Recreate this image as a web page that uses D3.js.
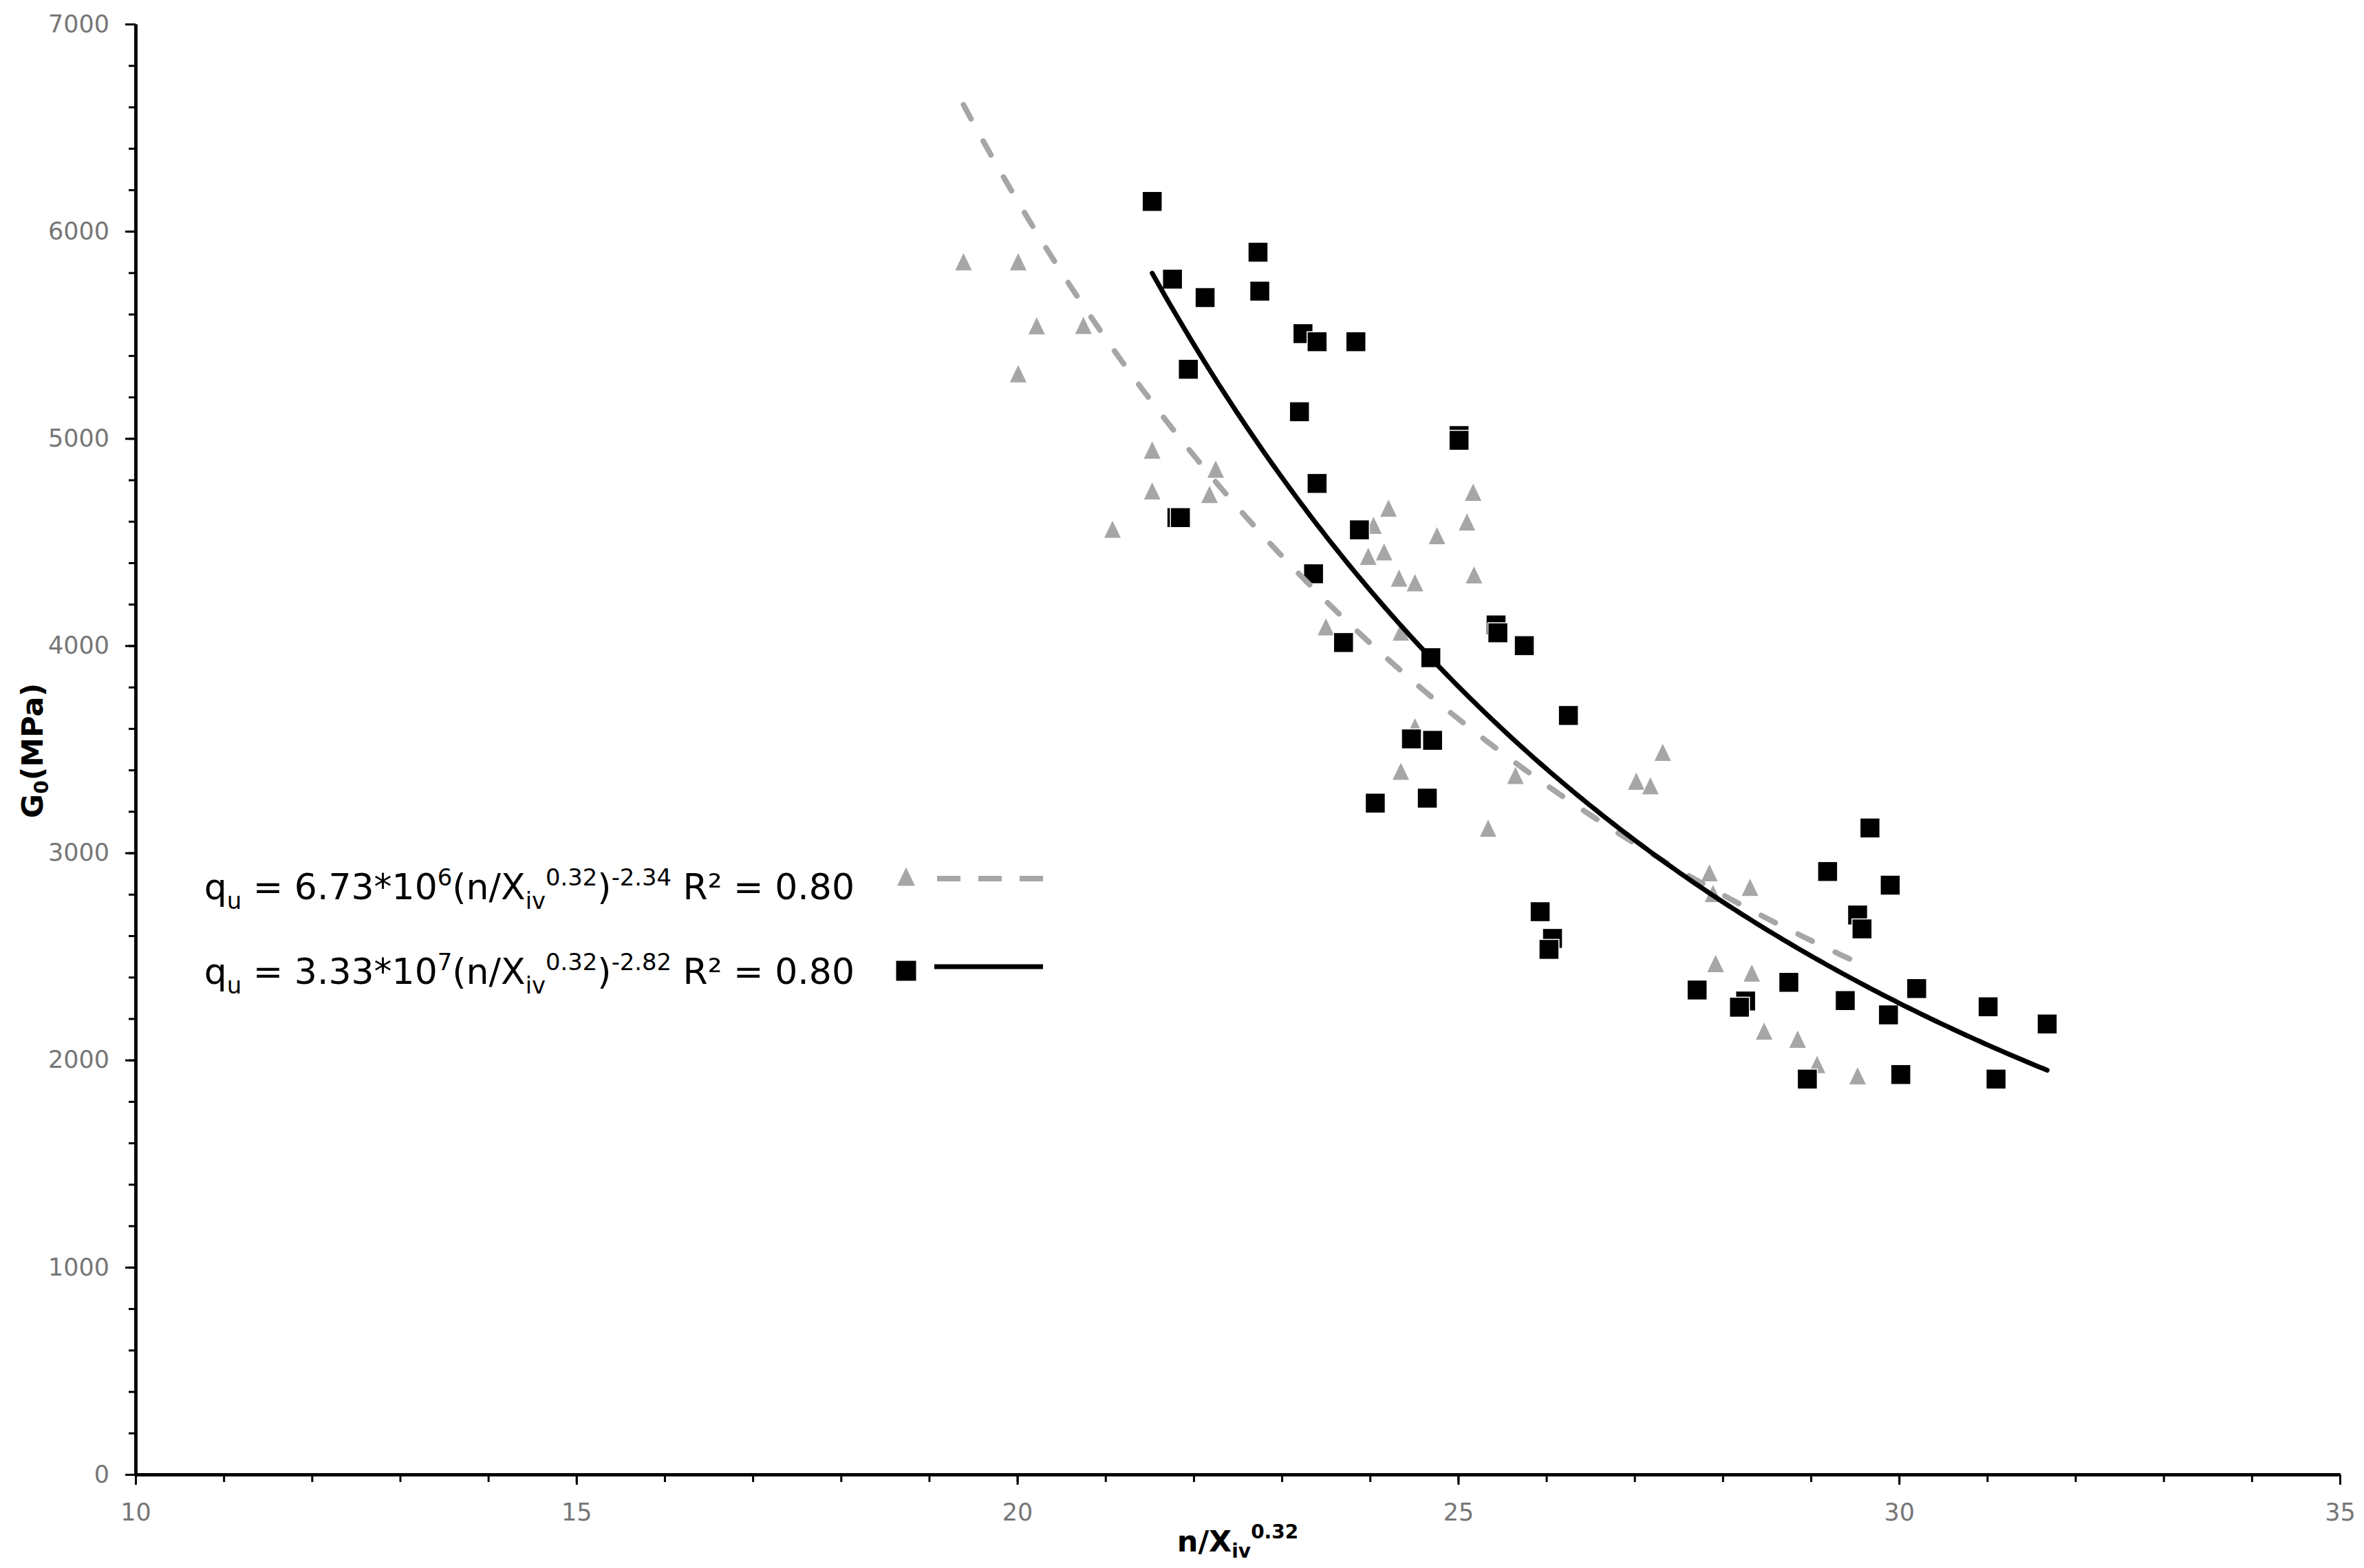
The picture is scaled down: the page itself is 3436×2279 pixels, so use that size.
<!DOCTYPE html>
<html lang="en">
<head>
<meta charset="UTF-8">
<title>G0 - n/Xiv^0.32</title>
<script src="https://cdn.jsdelivr.net/npm/d3@7"></script>
<style>
    body{margin:0;background:#fff;}
    text{font-family:"DejaVu Sans",Verdana,sans-serif;}
</style>
</head>
<body>
<script>
    // grey triangles
    var triX=[19.39,20.01,20.22,20.75,20.01,21.53,21.53,22.25,22.18,21.08,
              24.21,25.17,25.10,24.76,24.04,23.98,24.16,24.33,24.51,25.18,
              23.50,24.35,24.51,24.35,25.65,25.34,27.32,27.02,27.18,27.85,
              27.89,28.31,27.92,28.33,28.47,28.85,29.07,29.53];
    var triY=[5854,5854,5545,5547,5314,4945,4748,4853,4731,4563,
              4665,4742,4598,4532,4582,4432,4454,4327,4305,4343,
              4092,4067,3610,3395,3375,3120,3486,3347,3325,2905,
              2805,2835,2467,2421,2141,2102,1980,1925];

    // black squares
    var sqX=[21.53,22.73,21.76,22.13,22.75,21.94,23.24,23.40,23.84,23.20,
             25.01,25.01,23.40,23.88,21.81,21.85,23.36,23.70,24.69,25.43,
             25.45,25.75,26.25,24.47,24.71,24.06,24.65,25.93,26.07,26.03,
             27.71,28.75,28.26,28.19,29.67,29.19,29.90,29.53,29.58,29.39,
             30.20,29.88,31.01,31.68,28.96,30.02,31.10];
    var sqY=[6144,5899,5769,5680,5711,5334,5506,5467,5467,5129,
             5014,4991,4783,4559,4618,4618,4347,4015,3942,4100,
             4062,4000,3663,3550,3543,3240,3264,2716,2587,2534,
             2338,2375,2285,2255,3120,2910,2844,2700,2633,2287,
             2345,2218,2257,2174,1908,1930,1908];

    var xTicks=[10,15,20,25,30,35];
    var yTicks=[0,1000,2000,3000,4000,5000,6000,7000];

    // power trendlines y = a*x^b
    var greyFit=[6.81e6,-2.34];
    var blackFit=[3.33e7,-2.82];

    var width=3436, height=2279;
    var plot={left:197,right:3401,top:35,bottom:2143};

    var svg=d3.select("body").append("svg").attr("width",width).attr("height",height);
    svg.append("rect").attr("width",width).attr("height",height).attr("fill","#fff");

    var x=d3.scaleLinear().domain([10,35]).range([plot.left,plot.right]);
    var y=d3.scaleLinear().domain([0,7000]).range([plot.bottom,plot.top]);

    // minor ticks
    svg.append("g").attr("class","axis")
        .attr("transform","translate(0,"+plot.bottom+")")
        .call(d3.axisBottom(x).tickValues(d3.range(10,35.5,1)).tickSize(11).tickSizeOuter(0).tickFormat(""));
    svg.append("g").attr("class","axis")
        .attr("transform","translate("+plot.left+",0)")
        .call(d3.axisLeft(y).tickValues(d3.range(0,7001,200)).tickSize(10).tickSizeOuter(0).tickFormat(""));

    // major ticks + labels
    svg.append("g").attr("class","axis")
        .attr("transform","translate(0,"+plot.bottom+")")
        .call(d3.axisBottom(x).tickValues(xTicks).tickSize(15).tickSizeOuter(0).tickPadding(27).tickFormat(d3.format("d")));
    svg.append("g").attr("class","axis")
        .attr("transform","translate("+plot.left+",0)")
        .call(d3.axisLeft(y).tickValues(yTicks).tickSize(15).tickSizeOuter(0).tickPadding(23).tickFormat(d3.format("d")));

    svg.selectAll(".axis path").attr("stroke","#000").attr("stroke-width",4.5);
    svg.selectAll(".axis line").attr("stroke","#000").attr("stroke-width",3);
    svg.selectAll(".axis text").attr("fill","#767676").attr("font-size",35)
        .attr("font-family","'DejaVu Sans',Verdana,sans-serif");

    // markers
    function triPath(w,h){
        return "M0,"+(-h/2)+"L"+(w/2)+","+(h/2)+"L"+(-w/2)+","+(h/2)+"Z";
    }
    var triData=triX.map(function(v,i){return [v,triY[i]];});
    var sqData=sqX.map(function(v,i){return [v,sqY[i]];});

    svg.append("g").selectAll("path").data(triData).enter().append("path")
        .attr("d",triPath(26,27))
        .attr("transform",function(d){return "translate("+x(d[0])+","+y(d[1])+")";})
        .attr("fill","#a6a6a6").attr("stroke","#fff").attr("stroke-width",1.2);

    svg.append("g").selectAll("rect").data(sqData).enter().append("rect")
        .attr("x",function(d){return x(d[0])-14.5;})
        .attr("y",function(d){return y(d[1])-14.5;})
        .attr("width",29).attr("height",29)
        .attr("fill","#000").attr("stroke","#fff").attr("stroke-width",1.5);

    // trendlines
    function fitPoints(fit,xs){
        var ext=d3.extent(xs);
        return d3.range(0,201).map(function(i){
            var xv=ext[0]+(ext[1]-ext[0])*i/200;
            return [xv,fit[0]*Math.pow(xv,fit[1])];
        });
    }
    var line=d3.line().x(function(d){return x(d[0]);}).y(function(d){return y(d[1]);});

    svg.append("path").datum(fitPoints(greyFit,triX)).attr("d",line)
        .attr("fill","none").attr("stroke","#a6a6a6").attr("stroke-width",8)
        .attr("stroke-linecap","round").attr("stroke-dasharray","23,37");
    svg.append("path").datum(fitPoints(blackFit,sqX)).attr("d",line)
        .attr("fill","none").attr("stroke","#000").attr("stroke-width",7)
        .attr("stroke-linecap","round");

    // legend
    function richText(g,parts,xEnd,yBase,size){
        var t=g.append("text").attr("x",xEnd).attr("y",yBase)
            .attr("text-anchor","end").attr("font-size",size).attr("fill","#000");
        var shift=0;
        parts.forEach(function(p){
            var target=p[1]=="sub"?size*0.27:(p[1]=="sup"?-size*0.38:0);
            t.append("tspan").text(p[0]).attr("dy",target-shift)
                .attr("font-size",p[1]?size*0.65:size);
            shift=target;
        });
        return t;
    }
    var legend=svg.append("g");
    richText(legend,[["q",0],["u","sub"],[" = 6.73*10",0],["6","sup"],["(n/X",0],["iv","sub"],["0.32","sup"],[")",0],["-2.34","sup"],[" R² = 0.80",0]],1242,1307,52);
    richText(legend,[["q",0],["u","sub"],[" = 3.33*10",0],["7","sup"],["(n/X",0],["iv","sub"],["0.32","sup"],[")",0],["-2.82","sup"],[" R² = 0.80",0]],1242,1430,52);

    legend.append("path").attr("d",triPath(26,27)).attr("transform","translate(1317,1274)").attr("fill","#a6a6a6");
    legend.append("line").attr("x1",1362).attr("x2",1520).attr("y1",1277).attr("y2",1277)
        .attr("stroke","#a6a6a6").attr("stroke-width",8).attr("stroke-dasharray","34,26");
    legend.append("rect").attr("x",1317-14.5).attr("y",1411-14.5).attr("width",29).attr("height",29).attr("fill","#000");
    legend.append("line").attr("x1",1358).attr("x2",1516).attr("y1",1405).attr("y2",1405)
        .attr("stroke","#000").attr("stroke-width",7);

    // axis titles
    var xt=svg.append("text").attr("x",(plot.left+plot.right)/2).attr("y",2255)
        .attr("text-anchor","middle").attr("font-weight","bold").attr("font-size",43);
    xt.append("tspan").text("n/X");
    xt.append("tspan").text("iv").attr("font-size",28).attr("dy",9);
    xt.append("tspan").text("0.32").attr("font-size",28).attr("dy",-28);

    var yt=svg.append("text").attr("transform","translate(62,1091) rotate(-90)")
        .attr("text-anchor","middle").attr("font-weight","bold").attr("font-size",43);
    yt.append("tspan").text("G");
    yt.append("tspan").text("0").attr("font-size",28).attr("dy",8);
    yt.append("tspan").text("(MPa)").attr("dy",-8);
</script>
</body>
</html>
